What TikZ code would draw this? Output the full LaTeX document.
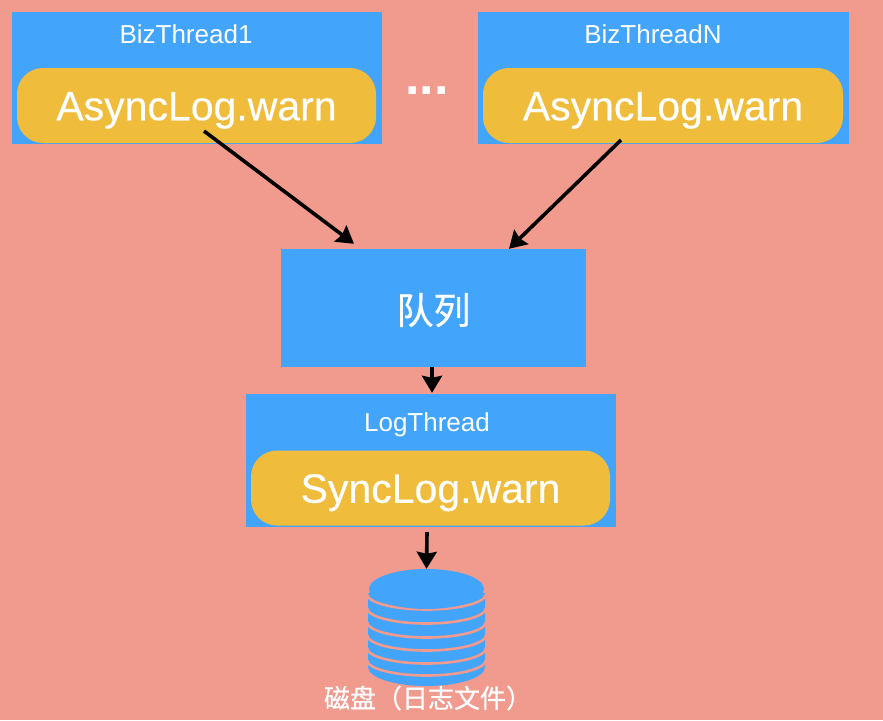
\documentclass[tikz,border=0pt]{standalone}
\usepackage{fontspec}
\setmainfont{Liberation Sans}
\newfontfamily\cjk[FakeBold=0.7]{Noto Sans CJK SC}
\newfontfamily\latinm[FakeBold=0.35]{Liberation Sans}
\usetikzlibrary{arrows.meta,shapes.geometric}
\definecolor{bgpink}{HTML}{F19A8E}
\definecolor{boxblue}{HTML}{43A4FB}
\definecolor{pillyellow}{HTML}{F0BC3C}
\tikzset{
  threadbox/.style={fill=boxblue,minimum width=#1,minimum height=132pt,inner sep=0pt},
  pill/.style={fill=pillyellow,rounded corners=26pt,minimum width=#1,minimum height=75pt,inner sep=0pt,
    text=white,font=\latinm\fontsize{41}{41}\selectfont,text height=29.5pt,text depth=0pt},
  threadname/.style={text=white,font=\fontsize{26}{26}\selectfont,anchor=base,inner sep=0pt},
  flow/.style={->,line width=3.6pt,black}
}
\begin{document}
\begin{tikzpicture}[>={Stealth[length=17pt,width=20pt,inset=2pt]},x=1pt,y=-1pt]
    \fill[bgpink] (0,0) rectangle (883,720);
    \node[threadbox=370pt] (bizA) at (197,78) {};
    \node[threadbox=371pt] (bizN) at (663.5,78) {};
    \node[threadname] (nameA) at (186,43) {BizThread1};
    \node[threadname] (nameN) at (653,43) {BizThreadN};
    \node[pill=359pt] (pillA) at (196.5,105.5) {AsyncLog.warn};
    \node[pill=360pt] (pillN) at (663,105.5) {AsyncLog.warn};
    \node[text=white,font=\bfseries\fontsize{52}{52}\selectfont,anchor=base,inner sep=0pt] (dots) at (427,94.5) {...};
    \node[fill=boxblue,minimum width=305pt,minimum height=118pt,inner sep=0pt,text=white,font=\cjk\fontsize{37}{37}\selectfont,text height=32pt,text depth=0pt] (queue) at (433.5,308) {队列};
    \node[threadbox=370pt,minimum height=133pt] (log) at (431,460.5) {};
    \node[threadname] (nameLog) at (427,431) {LogThread};
    \node[pill=359pt] (pillLog) at (430.5,488) {SyncLog.warn};
    % disk
    \fill[boxblue] (368,593) -- (368,667) arc[start angle=180,end angle=360,x radius=58.5pt,y radius=19pt] -- (485,593) -- cycle;
    \foreach \y in {594,608,622,635,648,660}
    \draw[bgpink,line width=2.6pt] (367,\y) arc[start angle=180,end angle=360,x radius=59.5pt,y radius=15.5pt];
    \node[ellipse,fill=boxblue,minimum width=115pt,minimum height=40pt,inner sep=0pt] (disk) at (426.5,589) {};
    \node[text=white,font=\cjk\fontsize{26}{26}\selectfont,inner sep=0pt] (diskname) at (428,698) {磁盘（日志文件）};
    \draw[flow] ([shift={(7.5,25.5)}]pillA.center) -- ([shift={(-79.5,-5)}]queue.north);
    \draw[flow] ([shift={(-42,34.5)}]pillN.center) -- ([shift={(75.5,0)}]queue.north);
    \draw[flow] ([xshift=-1.5pt]queue.south) -- ([xshift=1pt,yshift=1pt]log.north);
    \draw[flow] ([shift={(-4,5)}]log.south) -- (disk.north);
\end{tikzpicture}
\end{document}
